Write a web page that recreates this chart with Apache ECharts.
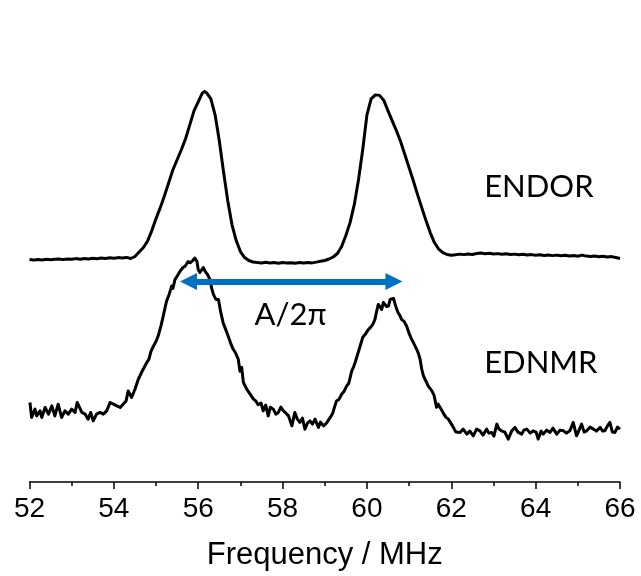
<!DOCTYPE html>
<html>
<head>
<meta charset="utf-8">
<script src="https://cdn.jsdelivr.net/npm/echarts@6/dist/echarts.min.js"></script>
<style>
  html, body { margin: 0; padding: 0; background: #fff; }
  #chart { width: 641px; height: 576px; }
</style>
</head>
<body>
<div id="chart"></div>
<script>
// frequency axis (MHz)
const xTicks = [52, 54, 56, 58, 60, 62, 64, 66]

// ENDOR trace (arbitrary units, offset upwards)
const endorMHz = [
  52.0, 52.1, 52.2, 52.3, 52.4, 52.5, 52.6, 52.7, 52.8, 52.9,
  53.0, 53.1, 53.2, 53.3, 53.4, 53.5, 53.6, 53.7, 53.8, 53.9,
  54.0, 54.1, 54.2, 54.3, 54.4, 54.5, 54.6, 54.7, 54.8, 54.9,
  55.0, 55.1, 55.2, 55.3, 55.4, 55.5, 55.6, 55.7, 55.8, 55.9,
  56.0, 56.1, 56.15, 56.2, 56.3, 56.4, 56.5, 56.6, 56.7, 56.8, 56.9,
  57.0, 57.1, 57.2, 57.3, 57.4, 57.5, 57.6, 57.7, 57.8, 57.9,
  58.0, 58.1, 58.2, 58.3, 58.4, 58.5, 58.6, 58.7, 58.8, 58.9,
  59.0, 59.1, 59.2, 59.3, 59.4, 59.5, 59.6, 59.7, 59.8, 59.9,
  60.0, 60.1, 60.2, 60.3, 60.4, 60.5, 60.6, 60.7, 60.8, 60.9,
  61.0, 61.1, 61.2, 61.3, 61.4, 61.5, 61.6, 61.7, 61.8, 61.9,
  62.0, 62.1, 62.2, 62.3, 62.4, 62.5, 62.6, 62.7, 62.8, 62.9,
  63.0, 63.1, 63.2, 63.3, 63.4, 63.5, 63.6, 63.7, 63.8, 63.9,
  64.0, 64.1, 64.2, 64.3, 64.4, 64.5, 64.6, 64.7, 64.8, 64.9,
  65.0, 65.1, 65.2, 65.3, 65.4, 65.5, 65.6, 65.7, 65.8, 65.9, 66.0
]
const endorSignal = [
  223, 222.4, 223.1, 222.6, 223.3, 222.7, 223.2, 223.6, 222.9, 223.5,
  223.2, 223.9, 223.3, 224.1, 223.6, 224.3, 223.8, 224.5, 224.1, 224.7,
  224.2, 224.9, 224.6, 225.1, 224.0, 226.0, 230.5, 235, 241.5, 252,
  264, 275, 287, 300, 313, 323, 333, 344, 358, 372,
  381, 390, 391.5, 390, 384, 368, 342, 311, 282, 258, 242,
  231, 225, 222, 220.5, 220.1, 219.6, 220.2, 219.5, 219.9, 219.3,
  220.0, 219.4, 219.8, 219.2, 219.9, 219.5, 220.1, 219.6, 220.4, 221.2,
  222, 223.5, 225.5, 229, 236, 247, 260, 278, 303, 333,
  368, 384, 388, 387.5, 382.5, 372, 362, 352, 341, 328,
  315, 302, 288, 275, 262, 250, 240, 233.5, 230, 228,
  227.3, 227.8, 228.4, 227.9, 228.6, 228.1, 229.0, 229.6, 228.8, 229.2,
  228.5, 228.9, 228.2, 228.7, 228.0, 228.4, 227.8, 228.3, 227.5, 227.9,
  227.3, 227.8, 227.1, 227.6, 226.9, 227.4, 226.7, 227.2, 226.5, 227.0,
  226.3, 227.4, 226.4, 226.0, 226.5, 225.8, 226.2, 225.5, 225.9, 225.0, 224.0
]

// EDNMR trace (arbitrary units)
const ednmrMHz = [
  52.01, 52.05, 52.13, 52.17, 52.25, 52.29, 52.37, 52.45, 52.53, 52.60,
  52.68, 52.76, 52.84, 52.92, 53.00, 53.08, 53.13, 53.24, 53.32, 53.39,
  53.45, 53.51, 53.59, 53.67, 53.75, 53.83, 53.91, 53.99, 54.07, 54.15,
  54.22, 54.29, 54.34, 54.42, 54.50, 54.58, 54.67, 54.78, 54.83, 54.88,
  54.94, 55.00, 55.05, 55.12, 55.17, 55.21, 55.25, 55.31, 55.37, 55.40,
  55.45, 55.51, 55.57, 55.64, 55.69, 55.76, 55.81, 55.87, 55.92, 55.97,
  56.00, 56.04, 56.08, 56.12, 56.16, 56.22, 56.28, 56.32, 56.36, 56.42,
  56.48, 56.53, 56.59, 56.65, 56.71, 56.77, 56.83, 56.89, 56.95, 56.99,
  57.03, 57.07, 57.15, 57.23, 57.31, 57.37, 57.42, 57.49, 57.54, 57.60,
  57.66, 57.71, 57.78, 57.84, 57.90, 57.96, 58.02, 58.08, 58.14, 58.22,
  58.29, 58.35, 58.41, 58.47, 58.53, 58.59, 58.65, 58.71, 58.77, 58.85,
  58.90, 58.97, 59.04, 59.13, 59.19, 59.24, 59.28, 59.34, 59.40, 59.46,
  59.52, 59.57, 59.64, 59.68, 59.72, 59.78, 59.84, 59.90, 59.96, 60.02,
  60.08, 60.14, 60.19, 60.23, 60.27, 60.31, 60.35, 60.39, 60.43, 60.46,
  60.51, 60.55, 60.59, 60.63, 60.67, 60.70, 60.74, 60.78, 60.82, 60.88,
  60.94, 61.00, 61.06, 61.11, 61.18, 61.22, 61.26, 61.30, 61.34, 61.40,
  61.45, 61.49, 61.54, 61.59, 61.65, 61.69, 61.76, 61.81, 61.87, 61.93,
  61.99, 62.05, 62.11, 62.21, 62.28, 62.37, 62.44, 62.52, 62.60, 62.68,
  62.75, 62.84, 62.89, 62.96, 63.01, 63.08, 63.13, 63.19, 63.27, 63.35,
  63.43, 63.51, 63.58, 63.67, 63.72, 63.79, 63.87, 63.94, 64.01, 64.06,
  64.13, 64.18, 64.26, 64.34, 64.41, 64.50, 64.58, 64.66, 64.73, 64.81,
  64.89, 64.97, 65.03, 65.09, 65.15, 65.21, 65.29, 65.37, 65.44, 65.53,
  65.59, 65.64, 65.70, 65.76, 65.82, 65.88, 65.94, 66.00
]
const ednmrSignal = [
  79.7, 64.7, 73, 66.3, 71.3, 64.7, 74.7, 68, 76.3, 66.3,
  78, 64.7, 71.3, 68, 73, 69.7, 79.7, 69.7, 68, 63,
  69.7, 61.3, 68, 69.7, 68, 71.3, 79.7, 78, 76.3, 74.7,
  78, 81.3, 91.3, 84.7, 93, 103, 111, 119.7, 123, 131,
  136.3, 141, 146.3, 157, 166.3, 174, 181.3, 188, 196.3, 194,
  203, 207, 211.3, 215, 216.3, 221, 219.7, 222, 224.5, 221,
  213, 210, 208, 215, 211.3, 208, 203, 194, 188, 183,
  183, 171, 159.7, 153, 146.3, 139, 133, 129, 123, 111,
  115, 100, 93, 88, 83, 81, 77.5, 79, 71.3, 77,
  66.3, 75, 73, 68, 69.7, 75, 71.3, 69, 66.3, 56.3,
  69.7, 63, 59.7, 64, 53, 59, 61.3, 58, 63, 54.7,
  60, 56.3, 59, 64.7, 69, 76.3, 81.3, 83, 88, 91,
  96.3, 99, 111.3, 115, 119.7, 128, 136.3, 145, 148, 152,
  154.7, 158, 163, 171, 178, 176, 173, 180, 181.3, 176,
  176.3, 183, 181.3, 184, 178, 174, 169.7, 167, 163, 161,
  156.3, 149, 143, 139, 133, 129, 123, 113, 106.3, 101,
  96.3, 98, 91.3, 87, 75, 78, 73, 69, 65, 63,
  59, 54.7, 50, 49.7, 53, 48, 51, 46.3, 53, 51.3,
  47, 53, 49, 49.7, 46, 58, 53, 51.3, 50, 43,
  51, 54.7, 50, 48, 52, 53, 49, 51.3, 50, 43,
  51, 48, 52, 49.7, 54, 48, 52, 51.3, 49, 51.3,
  59.7, 46.3, 52, 58, 50, 51.3, 55, 53, 51, 54.7,
  51, 51.3, 56, 59.7, 50, 49.7, 55, 53
]

// hyperfine splitting arrow (MHz, inner ends of the heads) and its height
const arrowMHz = [55.77, 60.64]
const arrowLevel = 201

const pairs = (xs, ys) => xs.map((x, i) => [x, ys[i]])

const chart = echarts.init(document.getElementById('chart'))

const option = {
  animation: false,
  backgroundColor: '#fff',
  grid: { left: 29.5, right: 21, top: 43, bottom: 93 },
  xAxis: {
    type: 'value',
    min: xTicks[0],
    max: xTicks[xTicks.length - 1],
    interval: 2,
    name: 'Frequency / MHz',
    nameLocation: 'middle',
    nameGap: 58,
    nameTextStyle: { fontFamily: 'Liberation Sans', fontSize: 31, color: '#000' },
    axisLine: { lineStyle: { color: '#000', width: 1.5 } },
    axisTick: { length: 7, lineStyle: { color: '#000', width: 1.5 } },
    minorTick: { show: true, splitNumber: 2, length: 4, lineStyle: { color: '#000', width: 1.5 } },
    axisLabel: { fontFamily: 'Liberation Sans', fontSize: 28, color: '#000', margin: 13 },
    splitLine: { show: false }
  },
  yAxis: { type: 'value', min: 0, max: 440, show: false },
  series: [
    {
      name: 'ENDOR',
      type: 'line',
      data: pairs(endorMHz, endorSignal),
      showSymbol: false,
      lineStyle: { color: '#000', width: 3, join: 'round' }
    },
    {
      name: 'EDNMR',
      type: 'line',
      data: pairs(ednmrMHz, ednmrSignal),
      showSymbol: false,
      lineStyle: { color: '#000', width: 3, join: 'round' },
      markLine: {
        silent: true,
        symbol: ['triangle', 'triangle'],
        symbolSize: [17, 17],
        label: { show: false },
        lineStyle: { color: '#0070C0', width: 6, type: 'solid' },
        data: [[{ coord: [arrowMHz[0], arrowLevel] }, { coord: [arrowMHz[1], arrowLevel] }]]
      }
    }
  ]
}
chart.setOption(option)

// annotation texts anchored in data space
const labelFont = { fontFamily: 'Lato', fontSize: 31, fill: '#000' }
const notes = [
  { text: 'ENDOR', at: [62.78, 295.5], align: 'left' },
  { text: 'EDNMR', at: [62.78, 119.5], align: 'left' },
  { text: 'A/2π', at: [58.19, 167], align: 'center' }
]
chart.setOption({
  graphic: notes.map(n => {
    const p = chart.convertToPixel({ xAxisIndex: 0, yAxisIndex: 0 }, n.at)
    return {
      type: 'text',
      x: p[0],
      y: p[1],
      style: Object.assign({ text: n.text, textAlign: n.align, textVerticalAlign: 'middle' }, labelFont)
    }
  })
})
</script>
</body>
</html>
